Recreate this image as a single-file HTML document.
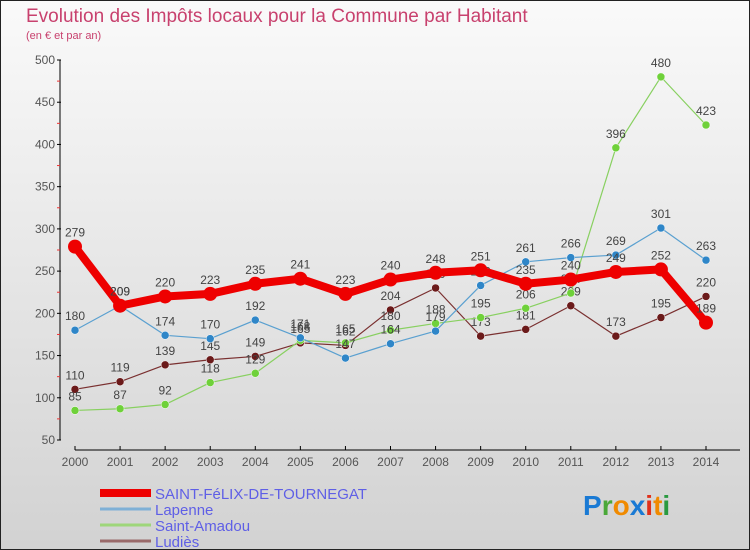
<!DOCTYPE html>
<html><head><meta charset="utf-8"><style>
body{margin:0}
#wrap{width:750px;height:550px;position:relative;overflow:hidden}
svg text{font-family:"Liberation Sans",sans-serif}
</style></head><body>
<div id="wrap">
<svg id="chart" width="750" height="550" xmlns="http://www.w3.org/2000/svg">
<defs><linearGradient id="bg" x1="0" y1="0" x2="0" y2="1"><stop offset="0" stop-color="#fafafa"/><stop offset="1" stop-color="#d2d2d2"/></linearGradient></defs>
<rect x="0.5" y="0.5" width="749" height="549" fill="url(#bg)" stroke="#222"/>
<text x="26" y="22" font-size="19" fill="#c8416e">Evolution des Impôts locaux pour la Commune par Habitant</text>
<text x="26" y="39" font-size="11" fill="#c8416e">(en € et par an)</text>
<g id="axes"></g><g id="series"></g><g id="legend"></g>
<text x="583" y="515" font-size="28" font-weight="bold"><tspan fill="#1a7ad4">P</tspan><tspan fill="#4aa838">r</tspan><tspan fill="#f08a00">o</tspan><tspan fill="#1a7ad4">x</tspan><tspan fill="#e0301a">i</tspan><tspan fill="#f08a00">t</tspan><tspan fill="#2a9a40">i</tspan></text>
</svg></div>
<script>
const years=[2000,2001,2002,2003,2004,2005,2006,2007,2008,2009,2010,2011,2012,2013,2014];
const yTicks=[50,100,150,200,250,300,350,400,450,500];
const seriesNames=["SAINT-FéLIX-DE-TOURNEGAT","Lapenne","Saint-Amadou","Ludiès"];
const saintFelix=[279,209,220,223,235,241,223,240,248,251,235,240,249,252,189];
const lapenne=[180,209,174,170,192,171,147,164,179,233,261,266,269,301,263];
const saintAmadou=[85,87,92,118,129,168,165,180,188,195,206,224,396,480,423];
const ludies=[110,119,139,145,149,165,162,204,230,173,181,209,173,195,220];

const NS="http://www.w3.org/2000/svg";
function xS(i){return 75+i*(706-75)/(years.length-1);}
function yS(v){return 440-(v-50)*(380/450);}
function mk(tag,attrs,parent,txt){const e=document.createElementNS(NS,tag);for(const k in attrs)e.setAttribute(k,attrs[k]);if(txt!==undefined)e.textContent=txt;parent.appendChild(e);return e;}
const axes=document.getElementById('axes');
let e=mk('line',{x1:60,y1:yS(500),x2:60,y2:yS(50),stroke:'#000'},axes);


yTicks.forEach(v=>{
  mk('line',{x1:57,x2:61,y1:yS(v),y2:yS(v),stroke:'#000'},axes);
  if(v<500)mk('line',{x1:57,x2:60,y1:yS(v+25),y2:yS(v+25),stroke:'#e33'},axes);
  const t=mk('text',{x:55,y:yS(v)+4,'font-size':12,fill:'#555','text-anchor':'end'},axes,v);
  
  
});
e=mk('line',{x1:75,y1:450,x2:740,y2:450,stroke:'#000'},axes);


years.forEach((y,i)=>{
  mk('line',{x1:xS(i),x2:xS(i),y1:446,y2:450,stroke:'#000'},axes);
  const t=mk('text',{x:xS(i),y:466,'font-size':12,fill:'#555','text-anchor':'middle'},axes,y);
  
  
});
const ser=document.getElementById('series');
const defs=[
 {d:ludies,c:'#6b1a1a',lc:'#7a3030',w:1.2,r:4,k:'ludies'},
 {d:saintAmadou,c:'#6fd13a',lc:'#88d060',w:1.2,r:4,k:'saint-amadou'},
 {d:lapenne,c:'#2f86c8',lc:'#5aa0d0',w:1.2,r:4,k:'lapenne'},
 {d:saintFelix,c:'#ee0000',lc:'#ee0000',w:8,r:7,k:'saint-felix'}];
defs.forEach(s=>{
  const g=mk('g',{},ser);
  
  
  const p=mk('polyline',{points:s.d.map((v,i)=>xS(i)+','+yS(v)).join(' '),fill:'none',stroke:s.lc,'stroke-width':s.w,'stroke-linejoin':'round'},g);
  
  
  s.d.forEach((v,i)=>{
    const c=mk('circle',{cx:xS(i),cy:yS(v),r:s.r,fill:s.c,stroke:s.w>2?'none':'#fff','stroke-width':0.5},g);
    
    
    const t=mk('text',{x:xS(i),y:yS(v)-10,'font-size':12,fill:'#444','text-anchor':'middle'},g,v);
    
    
  });
});
const leg=document.getElementById('legend');
const lc=['#ee0000','#7fb0d6','#9ed67a','#9a6a6a'],lw=[8,3,3,3];
seriesNames.forEach((n,i)=>{
  const y=493+i*16;
  const g=mk('g',{},leg);
  
  
  mk('line',{x1:100,x2:151,y1:y,y2:y,stroke:lc[i],'stroke-width':lw[i]},g);
  mk('text',{x:155,y:y+6,'font-size':15,fill:'#5f5fe6'},g,n);
});
</script>
</body></html>
